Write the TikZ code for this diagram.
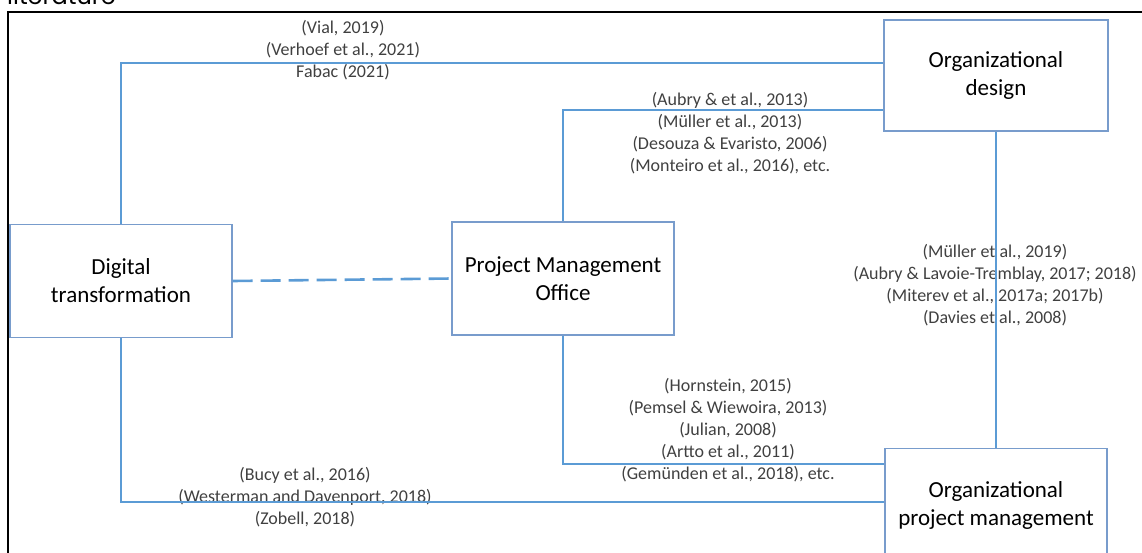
\documentclass[tikz,border=0pt]{standalone}
\usepackage{fontspec}
\setmainfont{Carlito}
\newfontfamily\gothicfont{Poppins}
\definecolor{linkblue}{RGB}{91,155,213}
\definecolor{boxblue}{RGB}{120,156,204}
\definecolor{reftext}{RGB}{64,64,64}
\begin{document}
\begin{tikzpicture}
    [x=1pt,y=-1pt,
     box/.style={rectangle,draw=boxblue,line width=1.3pt,minimum width=222pt,minimum height=113pt,inner sep=0pt,align=center,font=\fontsize{23}{28}\selectfont},
     link/.style={draw=linkblue,line width=1.5pt},
     ref/.style={align=center,text=reftext,inner sep=0pt,font=\fontsize{18}{22}\selectfont}]
    \useasboundingbox (0,0) rectangle (1142,552);
    \clip (0,0) rectangle (1142,552);
    \node[anchor=base west,inner sep=0pt,font=\gothicfont\fontsize{24}{28}\selectfont] (T) at (7,4.5) {literature};
    \draw[line width=1.5pt] (1150,12) -| (8,560);

    \node[box] (DT) at (121,281) {Digital\\transformation};
    \node[box] (PMO) at (563,278.5) {Project Management\\Office};
    \node[box,minimum width=224pt,minimum height=111pt] (OD) at (996,75.5) {Organizational\\design};
    \node[box] (OPM) at (996,505) {Organizational\\project management};

    \node[ref] (R1) at (343,50) {(Vial, 2019)\\(Verhoef et al., 2021)\\Fabac (2021)};
    \node[ref] (R2) at (730,133) {(Aubry \& et al., 2013)\\(Müller et al., 2013)\\(Desouza \& Evaristo, 2006)\\(Monteiro et al., 2016), etc.};
    \node[ref] (R3) at (995,285) {(Müller et al., 2019)\\(Aubry \& Lavoie-Tremblay, 2017; 2018)\\(Miterev et al., 2017a; 2017b)\\(Davies et al., 2008)};
    \node[ref] (R4) at (728,430) {(Hornstein, 2015)\\(Pemsel \& Wiewoira, 2013)\\(Julian, 2008)\\(Artto et al., 2011)\\(Gemünden et al., 2018), etc.};
    \node[ref] (R5) at (305,497) {(Bucy et al., 2016)\\(Westerman and Davenport, 2018)\\(Zobell, 2018)};

    \draw[link] (DT.north) |- ([yshift=12.5pt]OD.west);
    \draw[link] (PMO.north) |- ([yshift=-34.5pt]OD.west);
    \draw[link] (OD.south) -- (OPM.north);
    \draw[link] (PMO.south) |- ([yshift=41pt]OPM.west);
    \draw[link] (DT.south) |- ([yshift=3pt]OPM.west);
    \draw[link,line width=2.6pt,dash pattern=on 20pt off 8pt] (DT.east) -- (PMO.west);
  \end{tikzpicture}
\end{document}
